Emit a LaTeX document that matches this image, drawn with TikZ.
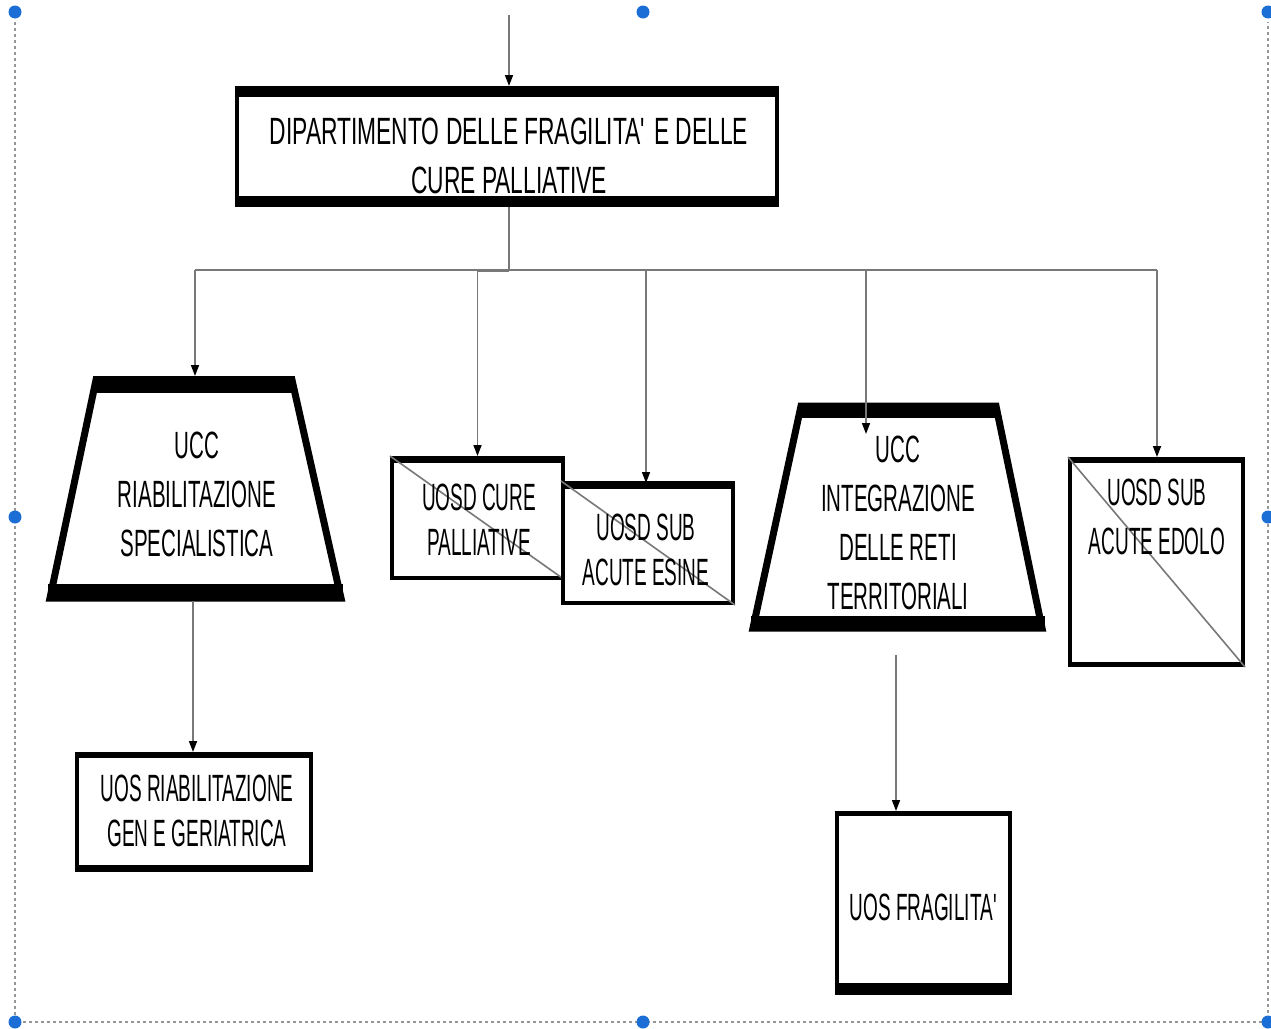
\documentclass[tikz,border=0pt]{standalone}
\usepackage{fontspec}
\setmainfont{Liberation Sans}[FakeStretch=0.56]
\newfontfamily\mainboxfont{Liberation Sans}[FakeStretch=0.6]
\newfontfamily\trapfont{Liberation Sans}[FakeStretch=0.54]
\newfontfamily\smallboxfont{Liberation Sans}[FakeStretch=0.5]
\usetikzlibrary{arrows.meta,calc}
\definecolor{conncol}{RGB}{120,120,120}
\definecolor{handlecol}{RGB}{26,110,214}
\definecolor{framecol}{RGB}{150,150,150}
\newcommand{\apos}{\textquotesingle}
\begin{document}
\begin{tikzpicture}[x=1pt,y=-1pt,
  txtm/.style={font=\mainboxfont\fontsize{38}{49}\selectfont, align=center, inner sep=0pt},
  txtt/.style={font=\trapfont\fontsize{38}{49}\selectfont, align=center, inner sep=0pt},
  txtb/.style={font=\smallboxfont\fontsize{38}{45}\selectfont, align=center, inner sep=0pt},
  txtc/.style={font=\smallboxfont\fontsize{38}{49}\selectfont, align=center, inner sep=0pt},
  rbox/.style={draw=black, fill=white, line width=4pt, inner sep=0pt},
  conn/.style={draw=conncol, line width=1.6pt},
  arr/.style={conn, -{Triangle[length=11pt,width=8pt,color=black]}},
  diag/.style={draw=conncol, line width=1.6pt},
  handle/.style={fill=handlecol},
  dashframe/.style={draw=framecol, line width=2pt, dash pattern=on 3pt off 3pt}]
\useasboundingbox (0,0) rectangle (1271,1028);
\fill[white] (0,0) rectangle (1271,1028);
\clip (0,0) rectangle (1271,1028);

% selection frame
\draw[dashframe] (15,22) -- (15,1022) -- (1268,1022) -- (1268,22);
\foreach \p in {(15,12),(643,12),(1268,12),(15,517),(1268,517),(15,1022),(643,1022),(1268,1022)}
  \fill[handle] \p circle (6.5pt);

% main box
\node[rbox, minimum width=540pt, minimum height=117pt] (main) at (507,146.5) {};
\fill (main.north west) rectangle ($(main.north east)+(0,11)$);
\fill ($(main.south west)+(0,-11)$) rectangle (main.south east);
\node[txtm] (maint) at (509,156) {DIPARTIMENTO DELLE FRAGILITA\apos{} E DELLE\\CURE PALLIATIVE};

% trapezoid 1
\draw[line width=7pt, line join=miter, fill=white] (96,380) -- (292,380) -- (341,598) -- (50,598) -- cycle;
\fill (93,376) rectangle (295,393);
\fill (48,584) rectangle (343,601);
\coordinate (t1top) at (195,376);
\coordinate (t1bot) at (193,601);
\node[txtt] (t1t) at (197,494) {UCC\\RIABILITAZIONE\\SPECIALISTICA};

% trapezoid 2
\draw[line width=7pt, line join=miter, fill=white] (801,406) -- (996,406) -- (1042,628) -- (753,628) -- cycle;
\fill (798,403) rectangle (999,418);
\fill (751,616) rectangle (1045,631);
\coordinate (t2in) at (866,434);
\coordinate (t2out) at (896,655);
\node[txtt] (t2t) at (898,523) {UCC\\INTEGRAZIONE\\DELLE RETI\\TERRITORIALI};

% UOSD cure palliative
\node[rbox, minimum width=171pt, minimum height=120pt] (p1) at (477.5,518) {};
\fill (p1.north west) rectangle ($(p1.north east)+(0,7)$);
\draw[diag] (p1.north west) -- (p1.south east);
\node[txtb] (p1t) at (479,520) {UOSD CURE\\PALLIATIVE};

% UOSD sub acute Esine
\node[rbox, minimum width=170pt, minimum height=120pt] (p2) at (648,543) {};
\fill (p2.north west) rectangle ($(p2.north east)+(0,8)$);
\draw[diag] (p2.north west) -- (p2.south east);
\node[txtb] (p2t) at (646,550) {UOSD SUB\\ACUTE ESINE};

% UOSD sub acute Edolo
\node[rbox, minimum width=173pt, minimum height=206pt] (p3) at (1156.5,562) {};
\fill (p3.north west) rectangle ($(p3.north east)+(0,6)$);
\fill ($(p3.south west)+(0,-5)$) rectangle (p3.south east);
\draw[diag] (p3.north west) -- (p3.south east);
\node[txtc] (p3t) at (1157,517) {UOSD SUB\\ACUTE EDOLO};

% UOS riabilitazione
\node[rbox, minimum width=234pt, minimum height=116pt] (u1) at (194,812) {};
\fill (u1.north west) rectangle ($(u1.north east)+(0,6)$);
\fill ($(u1.south west)+(0,-7)$) rectangle (u1.south east);
\node[txtb] (u1t) at (197,811) {UOS RIABILITAZIONE\\GEN E GERIATRICA};

% UOS fragilita
\node[rbox, minimum width=173pt, minimum height=180pt] (fr) at (923.5,903) {};
\fill (fr.north west) rectangle ($(fr.north east)+(0,5)$);
\fill ($(fr.south west)+(0,-12)$) rectangle (fr.south east);
\node[txtc] (frt) at (925,907) {UOS FRAGILITA\apos};

% connectors
\coordinate (topin) at (509,15);
\coordinate (bus) at (509,270);
\coordinate (busL) at (195,270);
\coordinate (busR) at (1157,270);
\draw[arr] (topin) -- (topin |- main.north);
\draw[conn] (topin |- main.south) -- (bus);
\draw[conn] (busL) -- (busR);
\draw[conn, line width=3pt] (478,270) -- (bus);
\draw[arr] (busL) -- (t1top);
\draw[arr] (p1.north |- busL) -- (p1.north);
\draw[arr] (646,270) -- (646,483);
\draw[arr] (t2in |- busL) -- (t2in);
\draw[arr] (busR) -- (busR |- p3.north);
\draw[arr] (t1bot) -- (t1bot |- u1.north);
\draw[arr] (t2out) -- (t2out |- fr.north);
\end{tikzpicture}
\end{document}
